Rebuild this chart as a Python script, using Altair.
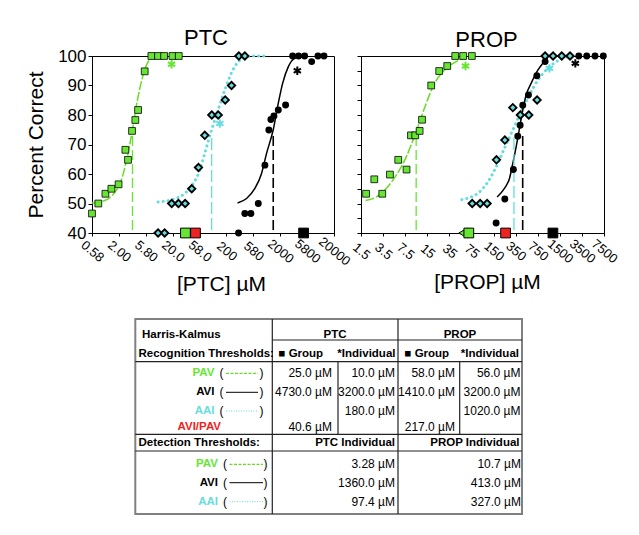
import altair as alt
import pandas as pd

FONT = "Liberation Sans"
GREEN = "#66e633"
GREEN_LINE = "#66dd22"
CYAN = "#66dddd"
RED = "#ee2222"
BLACK = "#000000"
ASTERISK = "M0,-1L0,1M-0.866,-0.5L0.866,0.5M-0.866,0.5L0.866,-0.5"

# ---------------- PTC panel ----------------
ptc_tick_values = [0.58, 1.834, 5.8, 18.34, 58, 183.4, 580, 1834, 5800, 18341]
ptc_tick_labels = ["0.58", "2.00", "5.80", "20.0", "58.0", "200", "580", "2000", "5800", "20000"]

ptc_pav_conc = [0.58, 0.76, 1.03, 1.33, 1.81, 2.42, 2.71, 3.22, 3.71, 4.17, 5.54, 7.37, 9.82, 12.7, 18.2, 23.8]
ptc_pav_pct = [46.6, 50.0, 53.3, 55.0, 56.5, 68.2, 64.8, 74.6, 78.3, 81.7, 94.8, 100, 100, 100, 100, 100]
ptc_aai_conc = [9.82, 13.0, 17.6, 23.5, 31.3, 41.5, 55.4, 72.5, 98, 129, 174, 228, 312, 403]
ptc_aai_pct = [40, 40, 50, 50, 50, 55.0, 62.2, 73.1, 80, 80, 85.1, 90, 100, 100]
ptc_avi_conc = [308, 403, 522, 717, 952, 1128, 1231, 1401, 1689, 2309, 3122, 4031, 5217, 7050, 9233, 11950]
ptc_avi_pct = [40, 46.6, 46.6, 50, 63, 74.9, 78.5, 79.7, 81.7, 83.4, 100, 100, 100, 98.1, 100, 100]

ptc_pav_curve_conc = [0.58, 1.0, 1.5, 2.0, 2.5, 3.28, 4.0, 5.0, 6.4, 8.0, 10.0]
ptc_pav_curve_pct = [50.2, 51.0, 53.5, 57.5, 64.0, 75.0, 84.5, 92.5, 98.0, 99.6, 100]
ptc_aai_curve_conc = [9.8, 17.5, 30.7, 44.4, 58.6, 73.7, 97.4, 130, 171, 212, 262, 325, 420, 600, 1100]
ptc_aai_curve_pct = [50.5, 51.3, 53.4, 56.8, 61.3, 67.5, 75.0, 82.0, 88.5, 93.0, 96.4, 98.6, 99.6, 100, 100]
ptc_avi_curve_conc = [295, 434, 620, 825, 1022, 1360, 1689, 2033, 2597, 3428, 5690]
ptc_avi_curve_pct = [50.2, 51.7, 55.1, 60.2, 67.0, 75.0, 84.0, 90.7, 96.4, 99.2, 100]

ptc_detect_conc = [3.28, 97.4, 1360]
ptc_detect_low = [41, 41, 41]
ptc_detect_high = [75, 73.5, 73.5]
ptc_star_conc = [17.5, 138, 3815]
ptc_star_pct = [97.2, 77.1, 95.0]
ptc_group_conc = [31.7, 48.7, 4990]
ptc_group_pct = [40, 40, 40]

# ---------------- PROP panel ----------------
prop_tick_values = [1.5, 3.232, 6.963, 15, 32.32, 69.63, 150, 323.2, 696.3, 1500, 3232, 6963]
prop_tick_labels = ["1.5", "3.5", "7.5", "15", "35", "75", "150", "350", "750", "1500", "3500", "7500"]

prop_pav_conc = [1.79, 2.38, 3.14, 4.10, 5.47, 7.30, 8.51, 9.87, 11.5, 12.5, 17.2, 22.7, 30.0, 39.6, 52.2, 70.6]
prop_pav_pct = [53.3, 58.2, 53.3, 59.8, 64.8, 61.5, 73.1, 73.1, 74.6, 78.4, 90.0, 94.9, 96.6, 100, 100, 100]
prop_aai_conc = [71.4, 94.2, 120, 166, 222, 293, 381, 510, 681, 900, 1186, 1603, 2139]
prop_aai_pct = [50, 50, 50, 64.8, 71.5, 82.5, 80, 80, 85.1, 100, 100, 100, 100]
prop_avi_conc = [164, 222, 299, 348, 378, 414, 504, 675, 900, 2898, 3820, 5094, 6794]
prop_avi_pct = [43.4, 51.5, 61.5, 72.8, 76.5, 83.3, 86.8, 93.3, 98.1, 100, 100, 100, 100]

prop_pav_curve_conc = [1.76, 2.55, 3.61, 5.11, 7.22, 9.98, 13.6, 19.3, 27.3, 40.9, 57.9]
prop_pav_curve_pct = [51.0, 52.2, 55.1, 59.6, 65.8, 73.8, 82.3, 90.7, 95.2, 98.1, 99.6]
prop_aai_curve_conc = [49.8, 68.8, 92, 123, 164, 219, 293, 391, 522, 699, 987, 1397, 1976]
prop_aai_curve_pct = [51.3, 52.2, 53.9, 57.3, 62.4, 68.7, 74.9, 81.1, 86.8, 91.8, 95.8, 98.4, 99.8]
prop_avi_curve_conc = [170, 219, 261, 293, 329, 369, 414, 465, 553, 699, 830, 987]
prop_avi_curve_pct = [52.2, 55.1, 58.5, 63.6, 69.2, 75.4, 81.7, 86.8, 90.7, 95.2, 97.5, 99.6]

prop_detect_conc = [10.2, 305, 413]
prop_detect_low = [41, 41, 41]
prop_detect_high = [73, 73.2, 73.2]
prop_star_conc = [56.6, 1045, 2571]
prop_star_pct = [96.6, 95.8, 97.5]
prop_group_conc = [52, 63.5, 228, 1180]
prop_group_pct = [40, 40, 40, 40]
prop_group_shape = ["triangle-left", "square", "square", "square"]

series_colors = [GREEN, CYAN, BLACK]
ptc_group_colors = [GREEN, RED, BLACK]
prop_group_colors = [GREEN, GREEN, RED, BLACK]


def label_expr(values, labels, per_decade):
    arr = "[" + ",".join("'%s'" % l for l in labels) + "]"
    return "%s[round(log(datum.value/%s)/log(10)*%d)]" % (arr, values[0], per_decade)


def panel(title, tdx, tick_values, tick_labels, per_decade, xtitle, title_x, ylabels,
          pav, aai, avi, pav_c, aai_c, avi_c, det, stars, groups, group_colors, group_shapes,
          width):
    xaxis = alt.Axis(values=tick_values, labelExpr=label_expr(tick_values, tick_labels, per_decade),
                     labelAngle=40, labelAlign="center", labelBaseline="middle", labelFontSize=13,
                     labelPadding=15, labelOverlap=False, labelFlush=False, tickSize=3,
                     title=xtitle, titleFontSize=21, titlePadding=6, titleX=title_x, grid=False)
    if ylabels:
        yaxis = alt.Axis(values=list(range(40, 101, 10)), labelFontSize=17, tickSize=4, labelPadding=2,
                         title="Percent Correct", titleFontSize=21, titlePadding=11, grid=False)
    else:
        yaxis = alt.Axis(values=list(range(40, 101, 5)), labels=False, tickSize=4, title="", grid=False)
    xs = alt.Scale(type="log", domain=[tick_values[0], tick_values[-1]], nice=False)
    ys = alt.Scale(domain=[40, 100], nice=False, zero=False)
    X = alt.X("conc:Q", scale=xs, axis=xaxis)
    Y = alt.Y("pct:Q", scale=ys, axis=yaxis)

    def df(c, p):
        return pd.DataFrame({"conc": c, "pct": p})

    layers = []
    layers.append(alt.Chart(df(*pav_c)).mark_line(color=GREEN_LINE, strokeWidth=1.5, strokeDash=[9, 2],
                                                   interpolate="monotone").encode(x=X, y=Y))
    layers.append(alt.Chart(df(*aai_c)).mark_line(color=CYAN, strokeWidth=3, strokeDash=[0.1, 5],
                                                   strokeCap="round", interpolate="monotone").encode(x=X, y=Y))
    layers.append(alt.Chart(df(*avi_c)).mark_line(color=BLACK, strokeWidth=1.5,
                                                   interpolate="monotone").encode(x=X, y=Y))
    det_df = pd.DataFrame({"conc": det[0], "pct": det[1], "pct2": det[2], "color": series_colors})
    for i, dash in enumerate([[10, 4], [12, 4], [10, 4]]):
        layers.append(alt.Chart(det_df.iloc[[i]]).mark_rule(color=series_colors[i], strokeDash=dash,
                                                             strokeWidth=1.3 if i < 2 else 1.6)
                      .encode(x=X, y=Y, y2="pct2:Q"))
    layers.append(alt.Chart(df(*pav)).mark_point(shape="square", filled=True, fill=GREEN, stroke=BLACK,
                                                 strokeWidth=0.8, size=46, opacity=1).encode(x=X, y=Y))
    layers.append(alt.Chart(df(*aai)).mark_point(shape="diamond", filled=True, fill=CYAN, stroke=BLACK,
                                                 strokeWidth=1.8, size=55, opacity=1).encode(x=X, y=Y))
    layers.append(alt.Chart(df(*avi)).mark_circle(color=BLACK, size=48, opacity=1).encode(x=X, y=Y))
    star_df = pd.DataFrame({"conc": stars[0], "pct": stars[1], "color": series_colors})
    layers.append(alt.Chart(star_df).mark_point(shape=ASTERISK, filled=False, strokeWidth=2, size=70,
                                                opacity=1)
                  .encode(x=X, y=Y, color=alt.Color("color:N", scale=None)))
    grp_df = pd.DataFrame({"conc": groups[0], "pct": groups[1], "color": group_colors, "shape": group_shapes})
    layers.append(alt.Chart(grp_df).mark_point(filled=True, stroke=BLACK, strokeWidth=1, size=95, opacity=1)
                  .encode(x=X, y=Y, color=alt.Color("color:N", scale=None),
                          shape=alt.Shape("shape:N", scale=None)))
    return alt.layer(*layers).properties(
        width=width, height=177,
        title=alt.TitleParams(title, fontSize=22, font=FONT, fontWeight="normal", dx=tdx, offset=-3),
        view=alt.ViewBackground(stroke=BLACK, strokeWidth=1),
    )


ptc = panel("PTC", -7, ptc_tick_values, ptc_tick_labels, 2, "[PTC] µM", 129, True,
            (ptc_pav_conc, ptc_pav_pct), (ptc_aai_conc, ptc_aai_pct), (ptc_avi_conc, ptc_avi_pct),
            (ptc_pav_curve_conc, ptc_pav_curve_pct), (ptc_aai_curve_conc, ptc_aai_curve_pct),
            (ptc_avi_curve_conc, ptc_avi_curve_pct),
            (ptc_detect_conc, ptc_detect_low, ptc_detect_high), (ptc_star_conc, ptc_star_pct),
            (ptc_group_conc, ptc_group_pct), ptc_group_colors, ["square"] * 3, 242)
prop = panel("PROP", 4, prop_tick_values, prop_tick_labels, 3, "[PROP] µM", 126, False,
             (prop_pav_conc, prop_pav_pct), (prop_aai_conc, prop_aai_pct), (prop_avi_conc, prop_avi_pct),
             (prop_pav_curve_conc, prop_pav_curve_pct), (prop_aai_curve_conc, prop_aai_curve_pct),
             (prop_avi_curve_conc, prop_avi_curve_pct),
             (prop_detect_conc, prop_detect_low, prop_detect_high), (prop_star_conc, prop_star_pct),
             (prop_group_conc, prop_group_pct), prop_group_colors, prop_group_shape, 243)

# ---------------- Table ----------------
recog_labels = ["PAV", "AVI", "AAI", "AVI/PAV"]
recog_label_colors = [GREEN, BLACK, CYAN, RED]
recog_ptc_group = ["25.0 µM", "4730.0 µM", "", "40.6 µM"]
recog_ptc_indiv = ["10.0 µM", "3200.0 µM", "180.0 µM", ""]
recog_prop_group = ["58.0 µM", "1410.0 µM", "", "217.0 µM"]
recog_prop_indiv = ["56.0 µM", "3200.0 µM", "1020.0 µM", ""]
detect_labels = ["PAV", "AVI", "AAI"]
detect_label_colors = [GREEN, BLACK, CYAN]
detect_ptc = ["3.28 µM", "1360.0 µM", "97.4 µM"]
detect_prop = ["10.7 µM", "413.0 µM", "327.0 µM"]

# table layout (pixel grid of the table)
T_LEFT, T_RIGHT, T_TOP, T_BOTTOM = 133.3, 520.0, 319.0, 514.0
COL_LABEL, COL_PTC, COL_PROP = 270.3, 396.0, 520.0
SUB_PTC, SUB_PROP = 336.0, 457.7
H_LINES = [(340.0, COL_LABEL, T_RIGHT), (361.7, T_LEFT, T_RIGHT), (434.3, T_LEFT, T_RIGHT), (451.0, T_LEFT, T_RIGHT)]
V_LINES = [(COL_LABEL, T_TOP, T_BOTTOM), (COL_PTC, T_TOP, T_BOTTOM), (SUB_PTC, 361.7, 434.3), (SUB_PROP, 361.7, 434.3)]
ROW_HEAD, ROW_RECOG, ROW_DETECT = 335.0, 354.0, 442.7
RECOG_ROWS = [373.3, 392.3, 411.0, 427.0]
DETECT_ROWS = [464.3, 482.7, 501.7]
R_PTC_G, R_PTC_I, R_PROP_G, R_PROP_I = 330.0, 393.0, 453.0, 518.5

# the table's view is as wide as the PTC panel; its marks extend past it (no clipping)
TX = alt.X("x:Q", scale=alt.Scale(domain=[90, 332], nice=False, zero=False), axis=None)
TY = alt.Y("y:Q", scale=alt.Scale(domain=[319, 514], reverse=True, nice=False, zero=False), axis=None)
TX2 = alt.X2("x2:Q")
TY2 = alt.Y2("y2:Q")

tl = []
tl.append(alt.Chart(pd.DataFrame({"x": [T_LEFT], "x2": [T_RIGHT], "y": [T_TOP], "y2": [T_BOTTOM]}))
          .mark_rect(filled=False, stroke="#808080", strokeWidth=2).encode(x=TX, x2=TX2, y=TY, y2=TY2))
lines = [{"x": a, "x2": b, "y": y, "y2": y} for (y, a, b) in H_LINES] + \
        [{"x": x, "x2": x, "y": a, "y2": b} for (x, a, b) in V_LINES]
tl.append(alt.Chart(pd.DataFrame(lines)).mark_rule(color="#222222", strokeWidth=1.2)
          .encode(x=TX, x2=TX2, y=TY, y2=TY2))

samp_rows_y = [RECOG_ROWS[0], DETECT_ROWS[0]], [RECOG_ROWS[1], DETECT_ROWS[1]], [RECOG_ROWS[2], DETECT_ROWS[2]]
samp_styles = [dict(color=GREEN_LINE, strokeDash=[3, 1.5], strokeWidth=1.3),
               dict(color=BLACK, strokeWidth=1),
               dict(color=CYAN, strokeDash=[1, 1.5], strokeWidth=1)]
for ys, st in zip(samp_rows_y, samp_styles):
    d = pd.DataFrame({"x": [224.0, 227.5], "x2": [256.0, 261.0], "y": ys, "y2": ys})
    tl.append(alt.Chart(d).mark_rule(**st).encode(x=TX, x2=TX2, y=TY, y2=TY2))

texts = []


def add(t, x, y, align, bold, color=BLACK):
    texts.append({"text": t, "x": x, "y": y, "align": align, "bold": bold, "color": color})


add("Harris-Kalmus", 140.0, ROW_HEAD, "left", True)
add("PTC", 333.0, ROW_HEAD, "center", True)
add("PROP", 458.0, ROW_HEAD, "center", True)
add("Recognition Thresholds:", 136.5, ROW_RECOG, "left", True)
add("■ Group", 276.5, ROW_RECOG, "left", True)
add("*Individual", 393.5, ROW_RECOG, "right", True)
add("■ Group", 402.5, ROW_RECOG, "left", True)
add("*Individual", 517.0, ROW_RECOG, "right", True)
for i, lab in enumerate(recog_labels):
    y = RECOG_ROWS[i]
    if lab == "AVI/PAV":
        add(lab, 219.0, y, "right", True, recog_label_colors[i])
    else:
        add(lab, 212.5, y, "right", True, recog_label_colors[i])
        add("(", 219.5, y, "center", False)
        add(")", 259.5, y, "center", False)
    add(recog_ptc_group[i], R_PTC_G, y, "right", False)
    add(recog_ptc_indiv[i], R_PTC_I, y, "right", False)
    add(recog_prop_group[i], R_PROP_G, y, "right", False)
    add(recog_prop_indiv[i], R_PROP_I, y, "right", False)
add("Detection Thresholds:", 136.5, ROW_DETECT, "left", True)
add("PTC Individual", 393.0, ROW_DETECT, "right", True)
add("PROP Individual", 517.5, ROW_DETECT, "right", True)
for i, lab in enumerate(detect_labels):
    y = DETECT_ROWS[i]
    add(lab, 216.0, y, "right", True, detect_label_colors[i])
    add("(", 223.0, y, "center", False)
    add(")", 263.5, y, "center", False)
    add(detect_ptc[i], R_PTC_I, y, "right", False)
    add(detect_prop[i], 519.0, y, "right", False)

tdf = pd.DataFrame([t for t in texts if t["text"]])
for align in ["left", "center", "right"]:
    for bold in [True, False]:
        sub = tdf[(tdf["align"] == align) & (tdf["bold"] == bold)]
        if len(sub) == 0:
            continue
        tl.append(alt.Chart(sub).mark_text(align=align, baseline="middle", font=FONT,
                                           fontSize=11.5 if bold else 12,
                                           fontWeight="bold" if bold else "normal")
                  .encode(x=TX, y=TY, text="text:N", color=alt.Color("color:N", scale=None)))

table = alt.layer(*tl).properties(width=242, height=195,
                                  view=alt.ViewBackground(stroke="transparent"))

chart = alt.concat(ptc, prop, table, columns=2, bounds="flush", align="none",
                   spacing={"row": 86, "column": 27}).properties(
    padding={"left": 17, "top": 18, "right": 5, "bottom": 5}
).configure_view(stroke="transparent").configure_axis(
    domainColor=BLACK, tickColor=BLACK, labelColor=BLACK, titleColor=BLACK,
    labelFont=FONT, titleFont=FONT, titleFontWeight="normal", grid=False
)

chart.save("out.html", embed_options={"renderer": "svg", "actions": False})
